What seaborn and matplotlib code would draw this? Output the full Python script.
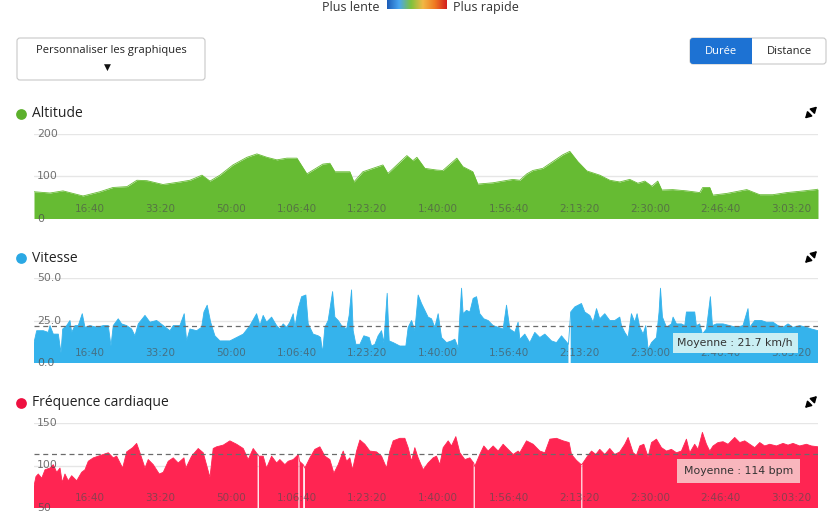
import numpy as np
import pandas as pd
import seaborn as sns
import matplotlib.pyplot as plt
from matplotlib.patches import FancyBboxPatch, Rectangle
from matplotlib.colors import LinearSegmentedColormap

# --- data (time in seconds) ---
alt_time = [0, 226, 410, 693, 933, 1117, 1315, 1456, 1598, 1824, 2064, 2206, 2376, 2489,
            2630, 2814, 3012, 3153, 3295, 3436, 3577, 3719, 3860, 4086, 4185, 4256, 4468,
            4525, 4652, 4935, 5006, 5274, 5359, 5416, 5529, 5698, 5783, 5981, 6066, 6207,
            6278, 6490, 6773, 6872, 6971, 7056, 7197, 7339, 7480, 7579, 7692, 7819, 8003,
            8145, 8286, 8427, 8541, 8640, 8739, 8823, 8880, 9035, 9233, 9417, 9460, 9559,
            9601, 9799, 10082, 10266, 10449, 10647, 10831, 11057, 11090]
alt_value = [63, 60, 65, 53, 63, 73, 75, 90, 89, 80, 86, 90, 102, 88,
             102, 126, 144, 152, 144, 138, 142, 142, 105, 128, 130, 110, 110,
             86, 110, 126, 106, 148, 136, 144, 118, 114, 113, 142, 122, 110,
             81, 84, 92, 90, 105, 113, 118, 134, 150, 158, 134, 112, 102,
             90, 86, 92, 83, 88, 76, 88, 67, 68, 65, 61, 73, 73,
             55, 59, 68, 56, 56, 61, 64, 68, 69]

speed_time = [0, 38, 132, 202, 226, 273, 344, 382, 406, 462, 509, 533, 580, 626, 683, 721,
              792, 887, 980, 1051, 1089, 1121, 1192, 1240, 1311, 1381, 1428, 1475, 1570,
              1640, 1735, 1828, 1923, 1970, 2064, 2125, 2159, 2206, 2301, 2371, 2404, 2450,
              2499, 2559, 2630, 2771, 2866, 2960, 3054, 3149, 3196, 3242, 3290, 3361, 3432,
              3478, 3525, 3573, 3620, 3667, 3691, 3737, 3785, 3846, 3879, 3949, 4020, 4054,
              4082, 4115, 4161, 4224, 4256, 4303, 4351, 4422, 4458, 4492, 4515, 4553, 4610,
              4666, 4741, 4775, 4822, 4868, 4916, 4949, 4996, 5024, 5081, 5175, 5260, 5293,
              5341, 5387, 5434, 5482, 5529, 5575, 5623, 5670, 5717, 5765, 5836, 5906, 5953,
              6000, 6024, 6048, 6070, 6118, 6165, 6212, 6260, 6306, 6363, 6424, 6495, 6566,
              6636, 6684, 6731, 6801, 6848, 6872, 6943, 7013, 7084, 7155, 7226, 7320, 7391,
              7462, 7560, 7579, 7592, 7650, 7697, 7744, 7791, 7862, 7909, 7957, 8003, 8074,
              8145, 8215, 8286, 8310, 8357, 8404, 8451, 8498, 8531, 8569, 8616, 8654, 8687,
              8735, 8805, 8842, 8862, 8890, 8947, 9017, 9040, 9088, 9158, 9205, 9229, 9346,
              9370, 9417, 9455, 9512, 9568, 9597, 9653, 9747, 9841, 9936, 10029, 10100, 10124,
              10195, 10290, 10360, 10454, 10524, 10595, 10666, 10737, 10831, 10926, 10997, 11090]
speed_value = [12, 19, 19, 18, 22, 17, 17, 6, 20, 22, 25, 18, 22, 22, 29, 21,
               22, 21, 22, 22, 10, 22, 26, 23, 22, 20, 16, 23, 28,
               24, 25, 22, 19, 22, 22, 29, 13, 20, 19, 21, 30, 34,
               24, 16, 13, 13, 15, 17, 22, 29, 22, 28, 24, 27, 22,
               20, 23, 21, 24, 29, 21, 32, 39, 40, 23, 17, 16, 15,
               6, 21, 25, 42, 27, 25, 22, 20, 28, 43, 19, 11, 11,
               16, 15, 10, 11, 16, 19, 12, 41, 13, 12, 10, 10, 21,
               25, 19, 40, 35, 31, 27, 26, 21, 29, 15, 12, 13, 14,
               9, 28, 44, 29, 31, 30, 38, 39, 29, 26, 25, 22, 21,
               20, 34, 20, 18, 24, 14, 17, 12, 18, 15, 17, 13, 12,
               16, 11, np.nan, 30, 33, 34, 35, 30, 28, 24, 32, 26, 29,
               25, 25, 27, 22, 18, 15, 29, 24, 29, 21, 17, 22, 8,
               12, 15, 30, 44, 27, 21, 23, 27, 23, 23, 22, 30, 30,
               22, 23, 17, 20, 39, 22, 23, 23, 22, 21, 22, 32, 21,
               25, 25, 24, 24, 22, 21, 23, 21, 22, 21, 20, 19]

hr_time = [0, 28, 61, 109, 156, 226, 273, 321, 368, 400, 438, 485, 533, 604, 674, 721,
           768, 839, 909, 980, 1051, 1121, 1169, 1254, 1311, 1396, 1452, 1499, 1570, 1616,
           1687, 1772, 1828, 1899, 1970, 2040, 2121, 2149, 2230, 2323, 2394, 2489, 2535,
           2583, 2677, 2771, 2866, 2960, 3030, 3101, 3163, 3172, 3181, 3242, 3290, 3361,
           3432, 3478, 3549, 3596, 3667, 3740, 3748, 3756, 3808, 3822, 3832, 3903, 3973,
           4044, 4115, 4185, 4242, 4303, 4374, 4422, 4468, 4506, 4563, 4610, 4680, 4751,
           4846, 4916, 4987, 5034, 5081, 5175, 5246, 5293, 5341, 5387, 5434, 5505, 5575,
           5646, 5694, 5741, 5788, 5859, 5906, 5967, 6024, 6095, 6165, 6219, 6227, 6235,
           6306, 6363, 6424, 6495, 6566, 6636, 6707, 6778, 6848, 6872, 6967, 7061, 7155,
           7226, 7297, 7391, 7485, 7570, 7603, 7674, 7741, 7749, 7757, 7838, 7886, 7947,
           8003, 8074, 8145, 8215, 8286, 8357, 8404, 8475, 8522, 8569, 8626, 8687, 8735,
           8805, 8876, 8947, 9017, 9088, 9158, 9229, 9276, 9346, 9393, 9455, 9512, 9559,
           9606, 9676, 9747, 9818, 9912, 9983, 10054, 10124, 10195, 10266, 10336, 10407,
           10502, 10595, 10666, 10737, 10831, 10926, 10997, 11090]
hr_value = [76, 87, 90, 85, 95, 97, 101, 92, 97, 80, 90, 82, 88, 82, 92, 95,
            105, 109, 111, 113, 115, 109, 111, 97, 116, 121, 126, 115, 97, 107,
            101, 90, 92, 105, 109, 103, 109, 97, 111, 120, 115, 86, 120,
            122, 124, 129, 125, 120, 107, 120, 113, np.nan, 111, 111, 97, 111,
            103, 107, 101, 105, 107, 113, np.nan, 105, 101, np.nan, 97, 109, 119,
            122, 111, 107, 91, 101, 117, 105, 109, 95, 117, 130, 125, 117,
            116, 111, 97, 117, 129, 132, 132, 121, 105, 121, 109, 95, 103,
            109, 111, 101, 121, 129, 123, 134, 115, 107, 109, 103, np.nan, 99,
            113, 123, 117, 123, 117, 125, 119, 113, 117, 115, 129, 125, 117,
            115, 131, 132, 129, 127, 113, 106, 101, np.nan, 102, 112, 117, 113,
            119, 113, 120, 113, 116, 125, 133, 115, 112, 123, 125, 110, 127,
            131, 121, 117, 119, 115, 117, 131, 115, 125, 119, 139, 125, 117,
            123, 127, 128, 125, 133, 127, 129, 125, 121, 127, 123, 125,
            123, 126, 124, 126, 123, 125, 123, 122]

speed_mean = 21.7
hr_mean = 114

tick_seconds = [1000, 2000, 3000, 4000, 5000, 6000, 7000, 8000, 9000, 10000, 11000]
tick_labels = ["16:40", "33:20", "50:00", "1:06:40", "1:23:20", "1:40:00",
               "1:56:40", "2:13:20", "2:30:00", "2:46:40", "3:03:20"]
t_end = 11090

sns.set_theme(style="white")
plt.rcParams['font.family'] = ['DejaVu Sans']

W, H = 831, 520
fig = plt.figure(figsize=(W / 100, H / 100), dpi=100)


def px_axes(left, top, right, bottom):
    return fig.add_axes([left / W, 1 - bottom / H, (right - left) / W, (bottom - top) / H])


# overlay in pixel coordinates for the page decorations
ov = fig.add_axes([0, 0, 1, 1])
ov.axis('off')

# speed legend at the top
grad = LinearSegmentedColormap.from_list(
    "pace", ["#1c5db8", "#4aa6f0", "#7ec23c", "#f2b845", "#ef7a22", "#d41f1f"])
ov.imshow(np.linspace(0, 1, 200)[None, :], cmap=grad, extent=[387, 447, 9, 0], aspect='auto')
ov.text(380, 11, "Plus lente", ha='right', va='baseline', fontsize=9, color='#333333',
        family='Open Sans')
ov.text(453, 11, "Plus rapide", ha='left', va='baseline', fontsize=9, color='#333333',
        family='Open Sans')

# "Personnaliser" button
ov.add_patch(FancyBboxPatch((17, 38), 188, 42, boxstyle="round,pad=0,rounding_size=3",
                            fc='white', ec='#c8c8c8', lw=0.8))
ov.text(111, 51, "Personnaliser les graphiques", ha='center', va='center', fontsize=8,
        color='#222222', family='Open Sans')
ov.text(107, 67, "▼", ha='center', va='center', fontsize=6.5, color='#111111')

# Durée / Distance toggle
ov.add_patch(FancyBboxPatch((690, 38), 136, 26, boxstyle="round,pad=0,rounding_size=3",
                            fc='white', ec='#c8c8c8', lw=0.8))
ov.add_patch(FancyBboxPatch((690, 38), 62, 26, boxstyle="round,pad=0,rounding_size=3",
                            fc='#1d72d3', ec='none'))
ov.add_patch(Rectangle((745, 38), 7, 26, fc='#1d72d3', ec='none'))
ov.text(721, 51, "Durée", ha='center', va='center', fontsize=8, color='white',
        family='Open Sans')
ov.text(789, 51, "Distance", ha='center', va='center', fontsize=8, color='#222222',
        family='Open Sans')

panels = [
    dict(title="Altitude", dot='#5cb02c', fill='#66bb33', top=133.5, bottom=218.5,
         t=alt_time, v=alt_value, ylim=(0, 200), yticks=[0, 100, 200],
         ylabels=["0", "100", "200"], mean=None),
    dict(title="Vitesse", dot='#2aa8e4', fill='#35b3ec', top=278, bottom=363,
         t=speed_time, v=speed_value, ylim=(0, 50), yticks=[0, 25, 50],
         ylabels=["0.0", "25.0", "50.0"], mean=speed_mean,
         mean_text="Moyenne : 21.7 km/h", box='#c9eef3', box_y=0.235, pad=0.45),
    dict(title="Fréquence cardiaque", dot='#ee1040', fill='#ff2552', top=423, bottom=508,
         t=hr_time, v=hr_value, ylim=(50, 150), yticks=[50, 100, 150],
         ylabels=["50", "100", "150"], mean=hr_mean,
         mean_text="Moyenne : 114 bpm", box='#f8b6bd', box_y=0.44, pad=0.65),
]

arrow = dict(arrowstyle='-|>,head_length=0.6,head_width=0.35', lw=1.1, color='black',
             mutation_scale=6, shrinkA=0, shrinkB=0)

for p in panels:
    title_y = p['top'] - 20
    ov.scatter([21], [title_y], s=60, color=p['dot'], linewidths=0)
    ov.text(32, title_y, p['title'], ha='left', va='center', fontsize=10,
            color='#222222', family='Open Sans')
    # expand icon (two arrows pointing out)
    cx, cy = 811, title_y - 1
    ov.annotate("", xy=(cx + 6, cy - 6), xytext=(cx + 1.5, cy - 1.5), arrowprops=arrow)
    ov.annotate("", xy=(cx - 6, cy + 6), xytext=(cx - 1.5, cy + 1.5), arrowprops=arrow)

    ax = px_axes(34, p['top'], 818, p['bottom'])
    df = pd.DataFrame({"t": p['t'], "v": p['v']})
    ax.fill_between(df["t"], p['ylim'][0], df["v"], color=p['fill'], lw=0, zorder=1)
    sns.lineplot(data=df, x="t", y="v", ax=ax, color=p['fill'], lw=0.6, zorder=1.2)
    for y in p['yticks'][1:]:
        ax.axhline(y, color='#e6e6e6', lw=1, zorder=0)
    if p['mean'] is not None:
        ax.axhline(p['mean'], color='#6b6b6b', lw=0.9, ls=(0, (4, 3)), zorder=2)
        ax.text(0.968, p['box_y'], p['mean_text'], transform=ax.transAxes, ha='right',
                va='center', fontsize=7.8, color='#333333', zorder=4,
                bbox=dict(boxstyle=f"square,pad={p['pad']}", fc=p['box'], ec='none'))
    ax.set_xlim(0, t_end)
    ax.set_ylim(*p['ylim'])
    ax.set_xlabel("")
    ax.set_ylabel("")
    ax.set_xticks(tick_seconds, tick_labels)
    ax.set_yticks(p['yticks'], p['ylabels'])
    ax.tick_params(axis='x', length=0, pad=-10.5, labelsize=7.5, labelcolor=(0.3, 0.3, 0.3, 0.65))
    ax.tick_params(axis='y', length=0, pad=-2, labelsize=7.8, labelcolor=(0.3, 0.3, 0.3, 0.8))
    for lab in ax.get_xticklabels():
        lab.set_horizontalalignment('right')
    for lab in ax.get_yticklabels():
        lab.set_horizontalalignment('left')
        lab.set_verticalalignment('center')
    ax.set_axisbelow(False)
    ax.grid(False)
    ax.patch.set_alpha(0)
    sns.despine(ax=ax, left=True, bottom=True)

ov.set_xlim(0, W)
ov.set_ylim(H, 0)

fig.savefig("out.png", dpi=100)
